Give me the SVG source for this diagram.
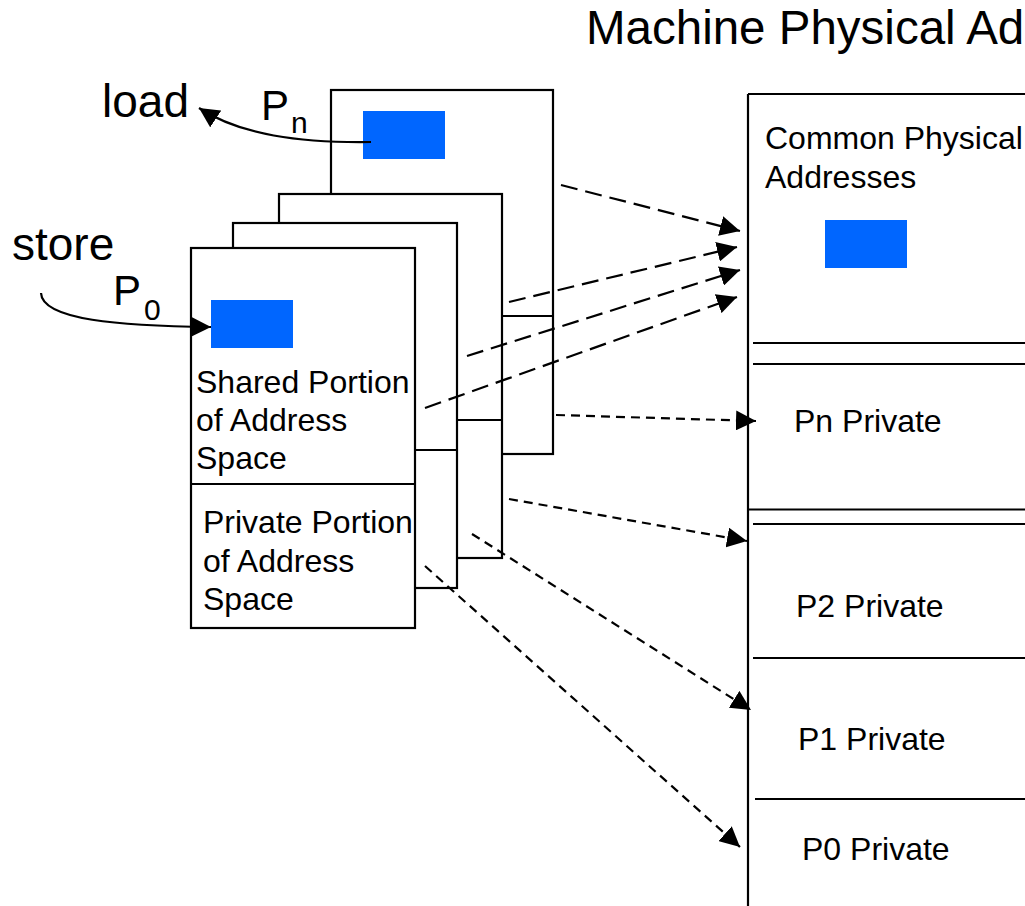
<svg xmlns="http://www.w3.org/2000/svg" width="1025" height="906" viewBox="0 0 1025 906">
<defs>
<style>
text{font-family:"Liberation Sans",Arial,Helvetica,sans-serif;fill:#000}
.page{fill:#fff;stroke:#000;stroke-width:2.2}
.ln{stroke:#000;stroke-width:2.2;fill:none}
.blk{fill:#0066ff}
.lbl{font-size:32px}
.big{font-size:46px}
.ttl{font-size:47.5px}
.pl{font-size:42px}
.sub{font-size:30px}
.ld{stroke:#000;stroke-width:2.2;fill:none;stroke-dasharray:17 8}
.sd{stroke:#000;stroke-width:2.2;fill:none;stroke-dasharray:9 6}
</style>
<marker id="ah" markerUnits="userSpaceOnUse" markerWidth="20" markerHeight="20" refX="20" refY="10" orient="auto" viewBox="0 0 20 20">
<path d="M0,0 L20,10 L0,20 z" fill="#000"/>
</marker>
</defs>
<rect width="1025" height="906" fill="#fff"/>

<g id="title">
<text x="586" y="44" class="ttl">Machine Physical Ad</text>
</g>

<g id="physical-memory">
<path class="ln" d="M748,94 H1025 M748,94 V906"/>
<path class="ln" d="M753,343 H1025 M753,364 H1025 M748,509.5 H1025 M753,524 H1025 M753,658 H1025 M755,799 H1025"/>
<text x="765" y="149" class="lbl">Common Physical</text>
<text x="765" y="188" class="lbl">Addresses</text>
<rect class="blk" x="825" y="220" width="82" height="48"/>
<text x="794" y="432" class="lbl">Pn Private</text>
<text x="796" y="617" class="lbl">P2 Private</text>
<text x="798" y="750" class="lbl">P1 Private</text>
<text x="802" y="860" class="lbl">P0 Private</text>
</g>

<g id="page-pn">
<rect class="page" x="331" y="90" width="222" height="364"/>
<line class="ln" x1="331" y1="316" x2="553" y2="316"/>
<rect class="blk" x="363" y="111" width="82" height="48"/>
</g>

<g id="page-3">
<rect class="page" x="279" y="194" width="223" height="364"/>
<line class="ln" x1="279" y1="420" x2="502" y2="420"/>
</g>

<g id="page-2">
<rect class="page" x="233" y="223" width="224" height="365"/>
<line class="ln" x1="233" y1="450" x2="457" y2="450"/>
</g>

<g id="page-p0">
<rect class="page" x="191" y="248" width="224" height="380"/>
<line class="ln" x1="191" y1="484" x2="415" y2="484"/>
<rect class="blk" x="211" y="300" width="82" height="48"/>
<text x="196" y="393" class="lbl">Shared Portion</text>
<text x="196" y="431" class="lbl">of Address</text>
<text x="196" y="469" class="lbl">Space</text>
<text x="203" y="533" class="lbl">Private Portion</text>
<text x="203" y="572" class="lbl">of Address</text>
<text x="203" y="610" class="lbl">Space</text>
</g>

<g id="labels">
<text x="102" y="117" class="big">load</text>
<text x="12" y="260" class="big">store</text>
<text x="261" y="120" class="pl">P</text>
<text x="291" y="133" class="sub">n</text>
<text x="113" y="305" class="pl">P</text>
<text x="144" y="320" class="sub">0</text>
</g>

<g id="connectors">
<path class="ln" d="M371,142 C300,143 240,135 199,108" marker-end="url(#ah)"/>
<path class="ln" d="M41,293 C42,320 120,326 211,327" marker-end="url(#ah)"/>
<path class="ld" d="M561,185 L740,231" marker-end="url(#ah)"/>
<path class="ld" d="M509,302 L737,247" marker-end="url(#ah)"/>
<path class="ld" d="M467,356 L740,270" marker-end="url(#ah)"/>
<path class="ld" d="M425,408 L737,297" marker-end="url(#ah)"/>
<path class="sd" d="M556,415 L756,421" marker-end="url(#ah)"/>
<path class="sd" d="M509,499 L747,541" marker-end="url(#ah)"/>
<path class="sd" d="M472,534 L751,710" marker-end="url(#ah)"/>
<path class="sd" d="M425,566 L740,847" marker-end="url(#ah)"/>
</g>
</svg>
